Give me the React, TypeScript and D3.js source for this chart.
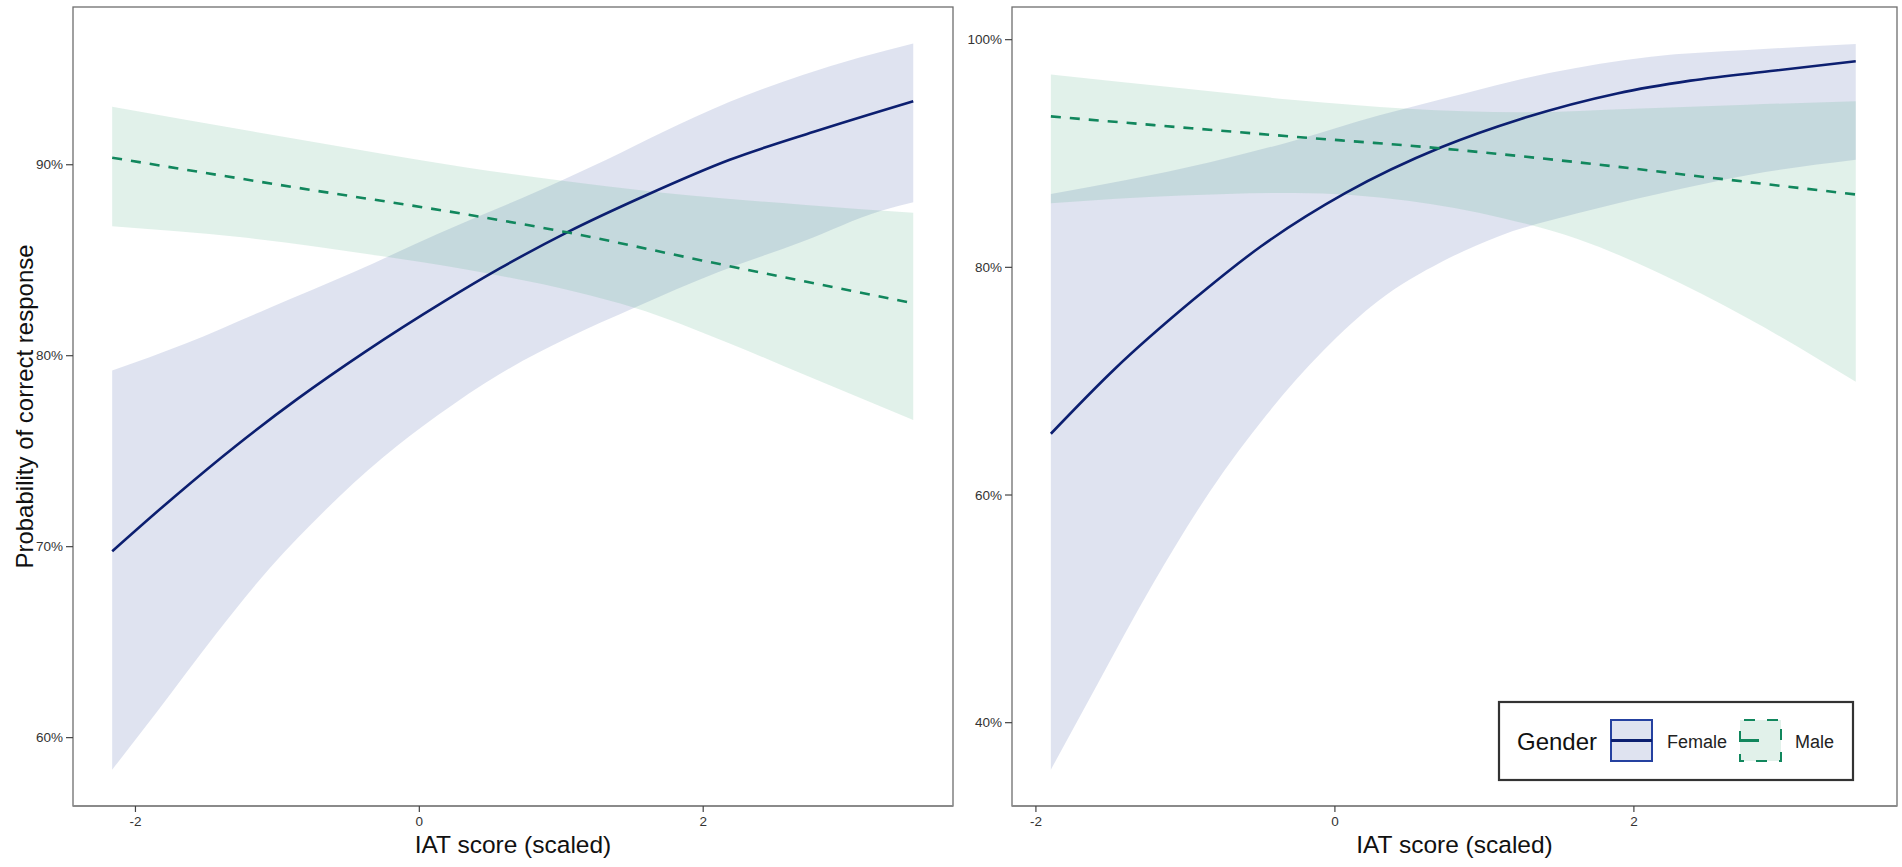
import React from "react";
import * as d3 from "d3";

type P = [number, number];

// ---------- Left panel data (x = IAT score scaled, y = % correct) ----------
const femaleLeftLine: P[] = [[-2.164,69.76],[-1.725,72.62],[-1.291,75.29],[-0.856,77.75],[-0.382,80.2],[0.172,82.83],[0.567,84.57],[1.041,86.46],[1.594,88.39],[2.187,90.26],[2.78,91.73],[3.48,93.33]];
const femaleLeftUpper: P[] = [[-2.164,79.22],[-1.646,80.64],[-1.053,82.51],[-0.461,84.38],[0.132,86.39],[0.725,88.26],[1.318,90.26],[1.713,91.7],[2.187,93.3],[2.701,94.7],[3.096,95.6],[3.48,96.35]];
const femaleLeftLower: P[] = [[-2.164,58.32],[-1.844,61.39],[-1.449,65.27],[-1.053,68.88],[-0.658,71.95],[-0.263,74.63],[0.132,76.89],[0.567,79.04],[1.041,80.91],[1.515,82.51],[2.108,84.38],[2.701,85.98],[3.254,87.59],[3.48,88.04]];
const maleLeftLine: P[] = [[-2.164,90.37],[-0.856,88.79],[0.33,87.4],[1.041,86.46],[1.989,84.99],[3.48,82.75]];
const maleLeftUpper: P[] = [[-2.164,93.04],[-0.856,91.33],[0.33,89.86],[1.12,89.06],[1.911,88.39],[2.701,87.91],[3.48,87.48]];
const maleLeftLower: P[] = [[-2.164,86.78],[-1.251,86.2],[-0.283,85.23],[0.33,84.51],[1.12,83.31],[1.515,82.51],[2.187,80.64],[2.701,79.04],[3.48,76.63]];

// ---------- Right panel data ----------
const femaleRightLine: P[] = [[-1.9,65.38],[-1.48,70.98],[-0.95,77.12],[-0.496,81.83],[0.072,86.54],[0.715,90.57],[1.244,93.04],[1.888,95.28],[2.379,96.4],[2.947,97.29],[3.484,98.1]];
const femaleRightUpper: P[] = [[-1.9,86.45],[-1.404,87.65],[-0.836,89.23],[-0.269,91.15],[0.298,93.35],[0.866,95.28],[1.433,97.07],[2.114,98.51],[2.758,99.09],[3.484,99.63]];
const femaleRightLower: P[] = [[-1.9,35.87],[-1.593,43.27],[-1.215,52.24],[-0.836,60.31],[-0.458,67.03],[-0.08,72.64],[0.298,77.12],[0.715,80.48],[1.093,82.72],[1.623,84.75],[2.191,86.54],[2.758,88.1],[3.484,89.45]];
const maleRightLine: P[] = [[-1.9,93.26],[-0.269,91.47],[0.715,90.44],[1.623,89.23],[2.569,87.79],[3.484,86.4]];
const maleRightUpper: P[] = [[-1.9,96.94],[-1.025,95.73],[-0.269,94.7],[0.488,93.94],[1.244,93.62],[2.001,93.94],[2.758,94.29],[3.484,94.6]];
const maleRightLower: P[] = [[-1.9,85.64],[-1.025,86.31],[-0.269,86.54],[0.488,85.86],[1.131,84.3],[1.623,82.5],[2.153,79.59],[2.758,75.55],[3.484,69.95]];

// ---------- Axes ----------
const xTicks = [-2, 0, 2];
const leftYTicks = [60, 70, 80, 90];
const rightYTicks = [40, 60, 80, 100];
const leftXDomain: [number, number] = [-2.44, 3.76];
const leftYDomain: [number, number] = [56.42, 98.26];
const rightXDomain: [number, number] = [-2.16, 3.76];
const rightYDomain: [number, number] = [32.68, 102.87];

const legendTitle = "Gender";
const legendLabels = ["Female", "Male"];
const xTitle = "IAT score (scaled)";
const yTitle = "Probability of correct response";

const FEMALE_LINE = "#0c1f70";
const MALE_LINE = "#11875d";
const FEMALE_FILL = "rgb(42,68,155)";
const MALE_FILL = "rgb(55,162,115)";
const FILL_OP = 0.15;
const FONT = "'Liberation Sans', Arial, sans-serif";

interface PanelProps {
  x0: number; x1: number; y0: number; y1: number;
  xDomain: [number, number]; yDomain: [number, number];
  yTicks: number[];
  fLine: P[]; fUp: P[]; fLo: P[];
  mLine: P[]; mUp: P[]; mLo: P[];
  showYTitle: boolean;
}

function Panel(p: PanelProps) {
  const xs = d3.scaleLinear().domain(p.xDomain).range([p.x0, p.x1]);
  const ys = d3.scaleLinear().domain(p.yDomain).range([p.y1, p.y0]);
  const line = d3.line<P>().x(d => xs(d[0])).y(d => ys(d[1])).curve(d3.curveMonotoneX);
  const bandPath = (up: P[], lo: P[]) => {
    const top = line(up) || "";
    const loRev = [...lo].reverse();
    const bottom = line(loRev) || "";
    return top + "L" + bottom.slice(1) + "Z";
  };
  return (
    <g>
      <path d={bandPath(p.fUp, p.fLo)} fill={FEMALE_FILL} fillOpacity={FILL_OP} stroke="none" />
      <path d={bandPath(p.mUp, p.mLo)} fill={MALE_FILL} fillOpacity={FILL_OP} stroke="none" />
      <path d={line(p.fLine) || ""} fill="none" stroke={FEMALE_LINE} strokeWidth={2.6} />
      <path d={line(p.mLine) || ""} fill="none" stroke={MALE_LINE} strokeWidth={2.6} strokeDasharray="10 9" />
      <rect x={p.x0} y={p.y0} width={p.x1 - p.x0} height={p.y1 - p.y0} fill="none" stroke="#6e6e6e" strokeWidth={1.3} />
      <line x1={p.x0} x2={p.x1} y1={p.y1} y2={p.y1} stroke="#8a8a8a" strokeWidth={2.2} />
      {xTicks.map(t => (
        <g key={"x" + t}>
          <line x1={xs(t)} x2={xs(t)} y1={p.y1} y2={p.y1 + 6} stroke="#444" strokeWidth={1.2} />
          <text x={xs(t)} y={p.y1 + 20} textAnchor="middle" fontSize={13.5} fill="#333" fontFamily={FONT}>{t}</text>
        </g>
      ))}
      {p.yTicks.map(t => (
        <g key={"y" + t}>
          <line x1={p.x0 - 7} x2={p.x0} y1={ys(t)} y2={ys(t)} stroke="#444" strokeWidth={1.2} />
          <text x={p.x0 - 10} y={ys(t)} dy="0.35em" textAnchor="end" fontSize={13.5} fill="#333" fontFamily={FONT}>{t}%</text>
        </g>
      ))}
      <text x={(p.x0 + p.x1) / 2} y={853} textAnchor="middle" fontSize={24.5} fill="#111" fontFamily={FONT}>{xTitle}</text>
      {p.showYTitle && (
        <text transform={`translate(33,${(p.y0 + p.y1) / 2}) rotate(-90)`} textAnchor="middle" fontSize={24} fill="#111" fontFamily={FONT}>{yTitle}</text>
      )}
    </g>
  );
}

function Legend() {
  const bx = 1499, by = 702, bw = 354, bh = 78;
  const k1 = 1611, k2 = 1740, ky = 720, ks = 41;
  return (
    <g fontFamily={FONT}>
      <rect x={bx} y={by} width={bw} height={bh} fill="#fff" stroke="#333" strokeWidth={2.2} />
      <text x={1517} y={750} fontSize={24} fill="#111">{legendTitle}</text>
      <rect x={k1} y={ky} width={ks} height={ks} fill={FEMALE_FILL} fillOpacity={FILL_OP} stroke="#2541a0" strokeWidth={2} />
      <line x1={k1} x2={k1 + ks} y1={ky + ks / 2} y2={ky + ks / 2} stroke={FEMALE_LINE} strokeWidth={3} />
      <text x={1667} y={748} fontSize={18} fill="#222">{legendLabels[0]}</text>
      <rect x={k2} y={ky} width={ks} height={ks} fill={MALE_FILL} fillOpacity={FILL_OP} stroke={MALE_LINE} strokeWidth={2} strokeDasharray="11 12" strokeDashoffset={-4} />
      <line x1={k2} x2={k2 + ks} y1={ky + ks / 2} y2={ky + ks / 2} stroke={MALE_LINE} strokeWidth={3} strokeDasharray="19 40" />
      <text x={1795} y={748} fontSize={18} fill="#222">{legendLabels[1]}</text>
    </g>
  );
}

export default function App() {
  return (
    <svg width={1902} height={867} style={{ position: "absolute", left: 0, top: 0, background: "#fff" }}>
      <rect x={0} y={0} width={1902} height={867} fill="#fff" />
      <Panel x0={73} x1={953} y0={7} y1={806} xDomain={leftXDomain} yDomain={leftYDomain} yTicks={leftYTicks}
        fLine={femaleLeftLine} fUp={femaleLeftUpper} fLo={femaleLeftLower}
        mLine={maleLeftLine} mUp={maleLeftUpper} mLo={maleLeftLower} showYTitle={true} />
      <Panel x0={1012} x1={1897} y0={7} y1={806} xDomain={rightXDomain} yDomain={rightYDomain} yTicks={rightYTicks}
        fLine={femaleRightLine} fUp={femaleRightUpper} fLo={femaleRightLower}
        mLine={maleRightLine} mUp={maleRightUpper} mLo={maleRightLower} showYTitle={false} />
      <Legend />
    </svg>
  );
}
